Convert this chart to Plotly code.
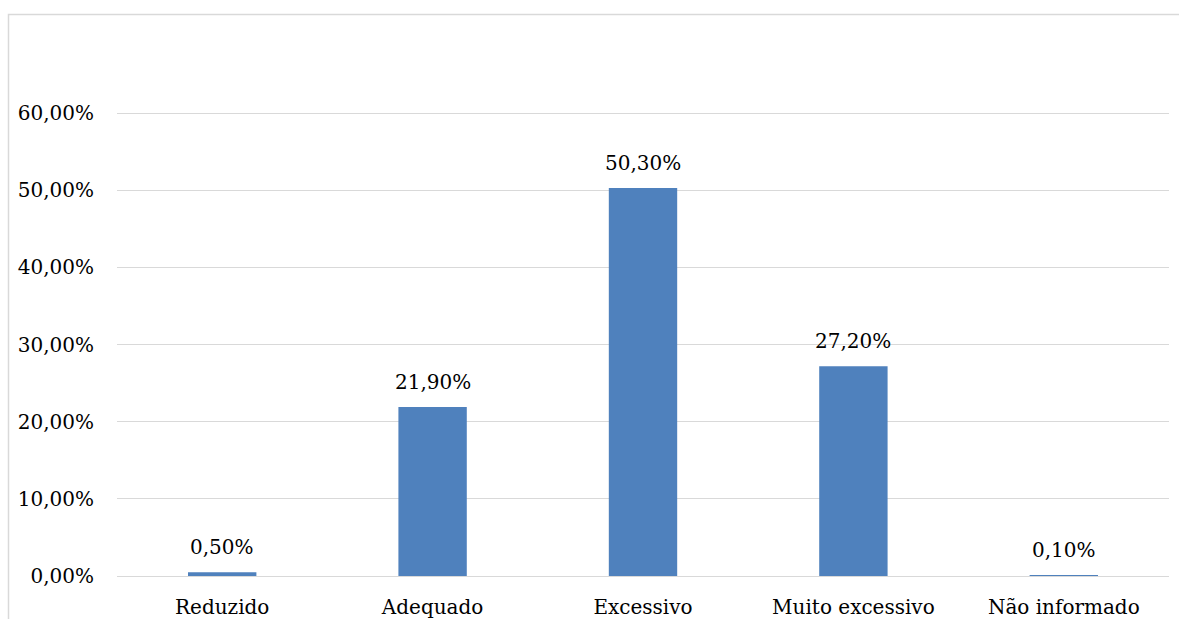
import plotly.graph_objects as go

categories = ["Reduzido", "Adequado", "Excessivo", "Muito excessivo", "Não informado"]
values = [0.005, 0.219, 0.503, 0.272, 0.001]
tick_values = [0, 0.1, 0.2, 0.3, 0.4, 0.5, 0.6]

FONT = "DejaVu Serif"
FS = 20
W, H = 1179, 619
L, R, T, B = 117, 10, 36, 43
pw, ph = W - L - R, H - T - B

labels = [f"{v*100:.2f}%".replace(".", ",") for v in values]

fig = go.Figure(go.Bar(x=categories, y=values, marker_color="#4F81BD",
                       marker_line_width=0, width=0.325))

for c, v, lab in zip(categories, values, labels):
    fig.add_annotation(x=c, y=v, text=lab, showarrow=False, yanchor="bottom",
                       yshift=11, font=dict(family=FONT, size=FS, color="#000000"))

fig.update_layout(
    width=W, height=H,
    margin=dict(l=L, r=R, t=T, b=B, autoexpand=False),
    plot_bgcolor="white", paper_bgcolor="white",
    separators=",.",
    showlegend=False,
    font=dict(family=FONT, size=FS, color="#000000"),
    xaxis=dict(showgrid=False, showline=False, ticks="", ticklabelstandoff=17,
               automargin=False,
               tickfont=dict(family=FONT, size=FS, color="#000000")),
    yaxis=dict(range=[0, 0.7], tickvals=tick_values, tickformat=".2%",
               showgrid=True, gridcolor="#D9D9D9", gridwidth=1.3,
               zeroline=True, zerolinecolor="#D9D9D9", zerolinewidth=1.3,
               showline=False, ticks="", ticklabelstandoff=22, automargin=False,
               tickfont=dict(family=FONT, size=FS, color="#000000")),
)

# outer chart border (top and left visible)
x0 = (8.5 - L) / pw
y1 = 1 + (T - 14.5) / ph
fig.add_shape(type="rect", xref="paper", yref="paper", x0=x0, x1=1.05,
              y0=-0.2, y1=y1, line=dict(color="#D9D9D9", width=1.5), layer="below")

fig.write_html("out.html")
